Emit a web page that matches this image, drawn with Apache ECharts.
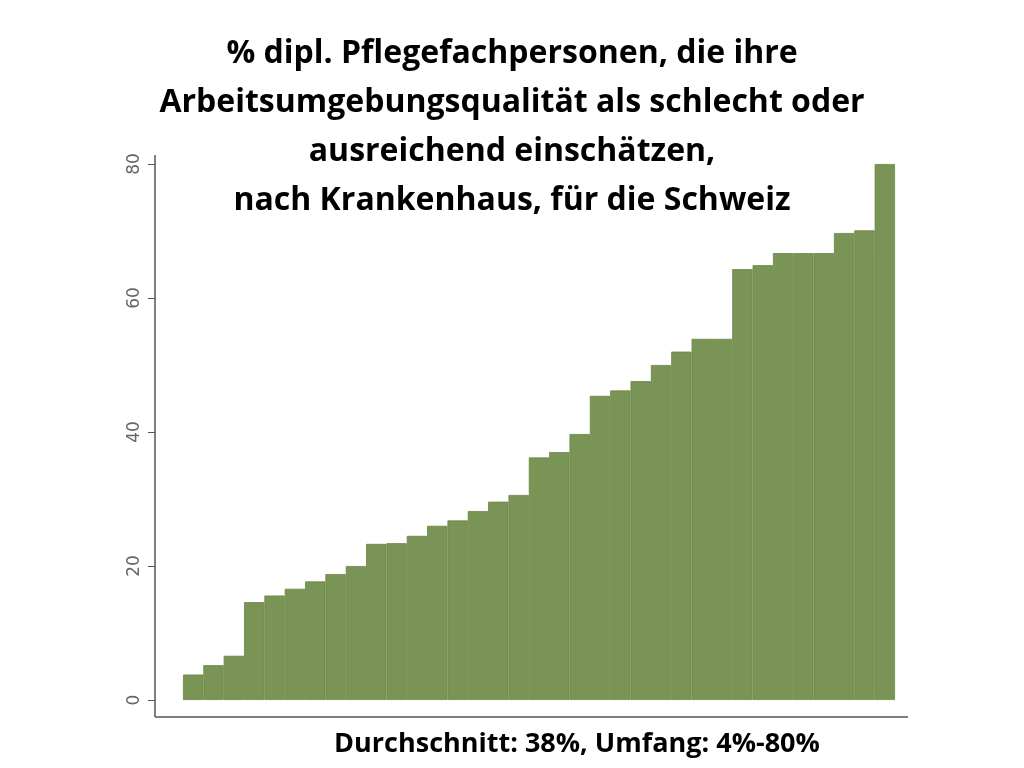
<!DOCTYPE html>
<html><head><meta charset="utf-8">
<script src="https://cdn.jsdelivr.net/npm/echarts@6/dist/echarts.min.js"></script>
<style>html,body{margin:0;padding:0;background:#fff}#c{width:1024px;height:768px}</style>
</head><body><div id="c"></div>
<script>
// Spitäler, aufsteigend sortiert
const hospitals = [];
const shares = [3.8, 5.2, 6.6, 14.6, 15.6, 16.6, 17.7, 18.8, 20.0, 23.3, 23.4, 24.5, 26.0, 26.8, 28.2, 29.6, 30.6, 36.2, 37.0, 39.7,
    45.4, 46.2, 47.6, 50.0, 52.0, 53.9, 53.9, 64.3, 64.9, 66.7, 66.7, 66.7, 69.7, 70.1, 80.0];
for (let i = 0; i < shares.length; i++) hospitals.push('H' + (i + 1));
const yTicks = [0, 20, 40, 60, 80];

const titleLines = '% dipl. Pflegefachpersonen, die ihre\nArbeitsumgebungsqualität als schlecht oder\nausreichend einschätzen,\nnach Krankenhaus, für die Schweiz';

echarts.init(document.getElementById('c')).setOption({
    animation: false,
    title: [{
        text: titleLines,
        left: 'center',
        top: 24,
        textStyle: {fontFamily: 'Open Sans', fontWeight: 'bold', fontSize: 32, lineHeight: 49, color: '#000'}
    }, {
        text: 'Durchschnitt: 38%, Umfang: 4%-80%',
        left: 572, textAlign: 'center',
        top: 726,
        textStyle: {fontFamily: 'Open Sans', fontWeight: 'bold', fontSize: 27, color: '#000'}
    }],
    grid: {left: 183, right: 129, top: 164, bottom: 68},
    xAxis: {
        type: 'category',
        data: hospitals,
        axisLine: {show: false},
        axisTick: {show: false},
        axisLabel: {show: false}
    },
    yAxis: {
        type: 'value',
        min: 0, max: 80, interval: 20,
        offset: 28,
        splitLine: {show: false},
        axisLine: {show: false},
        axisTick: {show: true, length: 7, lineStyle: {color: '#555'}},
        axisLabel: {
            rotate: 90, margin: 12, color: '#666', fontSize: 17, fontFamily: 'DejaVu Sans',
            formatter: v => yTicks.includes(v) ? String(v) : ''
        }
    },
    graphic: [
        {type: 'line', shape: {x1: 155, y1: 155, x2: 155, y2: 717}, style: {stroke: '#555', lineWidth: 1.5}},
        {type: 'line', shape: {x1: 155, y1: 717, x2: 908, y2: 717}, style: {stroke: '#555', lineWidth: 1.5}}
    ],
    series: [{
        type: 'bar',
        data: shares,
        barCategoryGap: '0%',
        itemStyle: {color: '#7a9455', borderColor: '#6b8548', borderWidth: 0.8}
    }]
});
</script></body></html>
